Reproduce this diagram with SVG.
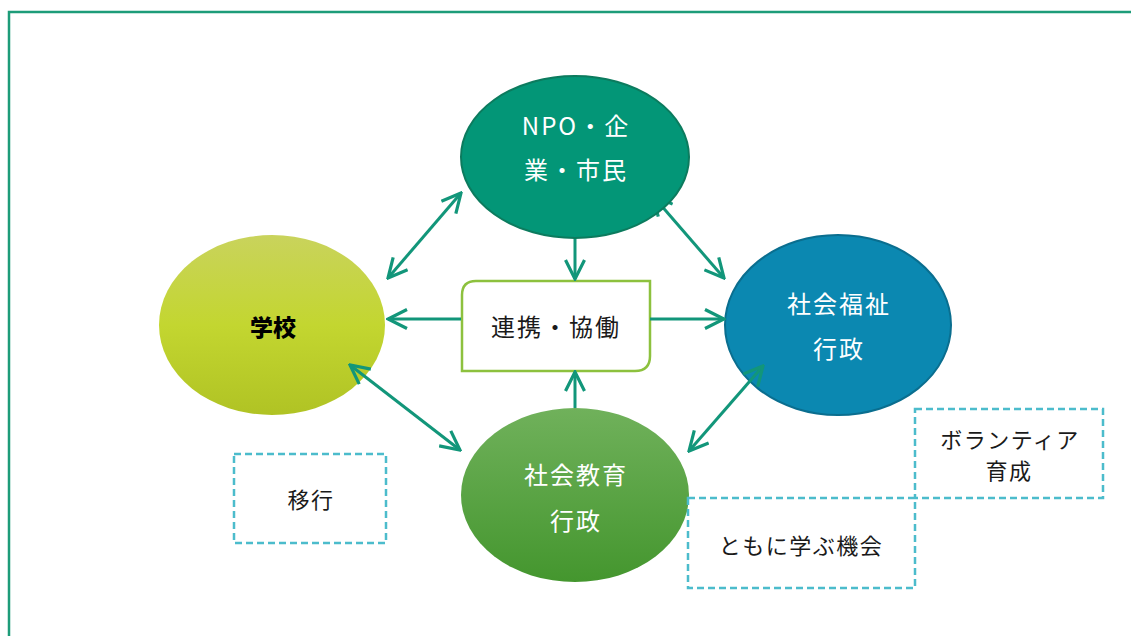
<svg xmlns="http://www.w3.org/2000/svg" width="1131" height="636" viewBox="0 0 1131 636">
<style>
  .t { font-family: "Noto Sans CJK JP", "Noto Sans", sans-serif; text-anchor: middle; }
  .w { fill: #ffffff; font-size: 24px; letter-spacing: 2px; }
  .b { fill: #1a1a1a; font-size: 22px; letter-spacing: 1.5px; }
  .c { stroke: #12967a; stroke-width: 3; fill: none; }
  .d { fill: #ffffff; stroke: #4cbccc; stroke-width: 2.5; stroke-dasharray: 7 4; }
</style>
<defs>
  <marker id="ah" viewBox="0 0 22 22" refX="20" refY="11" markerWidth="22" markerHeight="22" markerUnits="userSpaceOnUse" orient="auto-start-reverse">
    <path d="M1,1.5 L20,11 L1,20.5" fill="none" stroke="#12967a" stroke-width="3.2"/>
  </marker>
  <linearGradient id="gY" x1="0" y1="0" x2="0" y2="1">
    <stop offset="0" stop-color="#c9d35c"/>
    <stop offset="0.5" stop-color="#c3d630"/>
    <stop offset="1" stop-color="#b0c324"/>
  </linearGradient>
  <linearGradient id="gG" x1="0" y1="0" x2="0" y2="1">
    <stop offset="0" stop-color="#70b15b"/>
    <stop offset="1" stop-color="#44962e"/>
  </linearGradient>
</defs>
<rect x="0" y="0" width="1131" height="636" fill="#ffffff"/>
<rect id="frame" x="9" y="12" width="1140" height="640" fill="none" stroke="#1d9c79" stroke-width="2.5"/>

<g id="school">
  <ellipse cx="272" cy="325" rx="113" ry="90" fill="url(#gY)"/>
  <text class="t" x="273" y="336" font-size="23" font-weight="900" fill="#000000">学校</text>
</g>

<g id="welfare">
  <ellipse cx="838" cy="325" rx="113" ry="90" fill="#0b88b1" stroke="#0a6e8f" stroke-width="2"/>
  <text class="t w" x="839" y="313">社会福祉</text>
  <text class="t w" x="839" y="358">行政</text>
</g>

<g id="education">
  <ellipse cx="575" cy="495" rx="114" ry="87" fill="url(#gG)"/>
  <text class="t w" x="576" y="484">社会教育</text>
  <text class="t w" x="576" y="530">行政</text>
</g>

<g id="center">
  <path d="M476,281 H650 V356 Q650,371 635,371 H462 V295 Q462,281 476,281 Z" fill="#ffffff" stroke="#8dc13e" stroke-width="2.5"/>
  <text class="t" x="556" y="336" font-size="24" letter-spacing="2" fill="#1a1a1a">連携・協働</text>
</g>

<g id="transition">
  <rect class="d" x="234" y="454" width="152" height="89"/>
  <text class="t b" x="311" y="508">移行</text>
</g>

<g id="volunteer">
  <rect class="d" x="915" y="409" width="188" height="89"/>
  <text class="t b" x="1010" y="448">ボランティア</text>
  <text class="t b" x="1009" y="479">育成</text>
</g>

<g id="learn">
  <rect class="d" x="688" y="498" width="227" height="90"/>
  <text class="t b" x="801" y="554">ともに学ぶ機会</text>
</g>

<g id="connectors">
  <line class="c" x1="653" y1="196" x2="724" y2="278" marker-start="url(#ah)" marker-end="url(#ah)"/>
  <line class="c" x1="461" y1="193" x2="388" y2="278" marker-start="url(#ah)" marker-end="url(#ah)"/>
  <line class="c" x1="575" y1="236" x2="575" y2="279" marker-end="url(#ah)"/>
  <line class="c" x1="461" y1="319" x2="388" y2="319" marker-end="url(#ah)"/>
  <line class="c" x1="650" y1="319" x2="724" y2="319" marker-end="url(#ah)"/>
  <line class="c" x1="575" y1="408" x2="575" y2="372" marker-end="url(#ah)"/>
  <line class="c" x1="350" y1="365" x2="460" y2="450" marker-start="url(#ah)" marker-end="url(#ah)"/>
  <line class="c" x1="763" y1="366" x2="689" y2="451" marker-start="url(#ah)" marker-end="url(#ah)"/>
</g>

<g id="npo">
  <ellipse cx="575" cy="157" rx="114" ry="81" fill="#039677" stroke="#0c7b5e" stroke-width="2"/>
  <text class="t w" x="576" y="135">NPO・企</text>
  <text class="t w" x="576" y="179">業・市民</text>
</g>
</svg>
